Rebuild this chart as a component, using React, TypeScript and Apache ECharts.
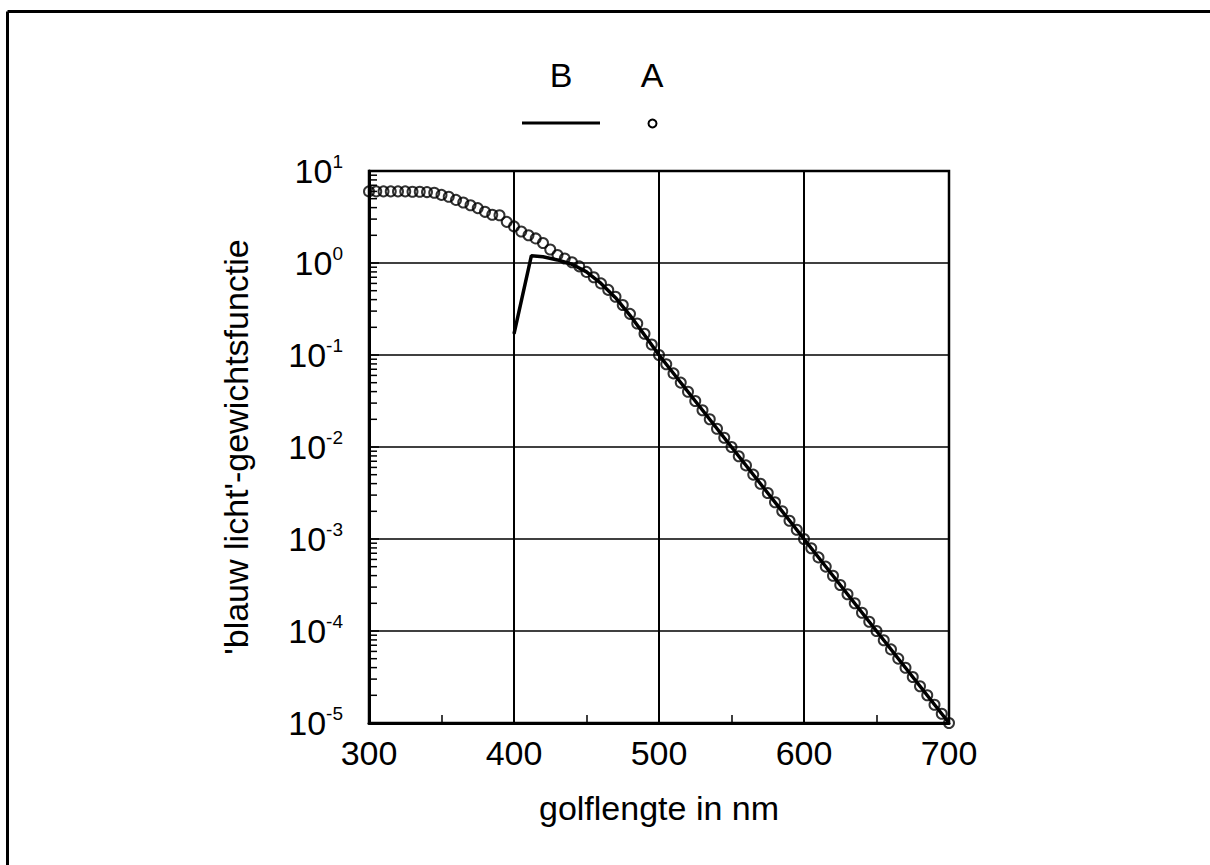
import React, { useEffect, useRef } from "react";
import * as echarts from "echarts";

// Wavelengths (nm) of the A data points
const WAVELENGTHS = [
  300, 305, 310, 315, 320, 325, 330, 335, 340, 345,
  350, 355, 360, 365, 370, 375, 380, 385, 390, 395,
  400, 405, 410, 415, 420, 425, 430, 435, 440, 445,
  450, 455, 460, 465, 470, 475, 480, 485, 490, 495,
  500, 505, 510, 515, 520, 525, 530, 535, 540, 545,
  550, 555, 560, 565, 570, 575, 580, 585, 590, 595,
  600, 605, 610, 615, 620, 625, 630, 635, 640, 645,
  650, 655, 660, 665, 670, 675, 680, 685, 690, 695,
  700,
];

// Series A ("blauw licht"-gewichtsfunctie, circles)
const SERIES_A = [
  6.0, 6.0, 6.0, 6.0, 6.0, 6.0, 5.95, 5.95, 5.9, 5.8,
  5.5, 5.25, 4.85, 4.55, 4.25, 3.95, 3.6, 3.35, 3.3, 2.8,
  2.5, 2.2, 2.0, 1.85, 1.65, 1.4, 1.22, 1.12, 1.02, 0.92,
  0.8, 0.7, 0.6, 0.51, 0.43, 0.35, 0.28, 0.22, 0.17, 0.13,
  0.1, 0.0794, 0.0631, 0.0501, 0.0398, 0.0316, 0.0251, 0.02, 0.0158, 0.0126,
  0.01, 0.00794, 0.00631, 0.00501, 0.00398, 0.00316, 0.00251, 0.002, 0.00158, 0.00126,
  0.001, 7.94e-4, 6.31e-4, 5.01e-4, 3.98e-4, 3.16e-4, 2.51e-4, 2.0e-4, 1.58e-4, 1.26e-4,
  1.0e-4, 7.94e-5, 6.31e-5, 5.01e-5, 3.98e-5, 3.16e-5, 2.51e-5, 2.0e-5, 1.58e-5, 1.26e-5,
  1.0e-5,
];

// Series B (solid line)
const B_X = [400, 412, 420, 430, 440, 450, 460, 470, 480, 490, 500, 550, 600, 650, 700];
const B_Y = [0.17, 1.2, 1.17, 1.08, 0.97, 0.8, 0.6, 0.42, 0.27, 0.165, 0.1, 0.01, 0.001, 1e-4, 1e-5];

// Axis ticks
const X_TICKS = [300, 400, 500, 600, 700];
const Y_EXPONENTS = [-5, -4, -3, -2, -1, 0, 1];
const MINOR_MULTS = [2, 3, 4, 5, 6, 7, 8, 9];

const LEGEND_NAMES = ["B", "A"];
const X_TITLE = "golflengte in nm";
const Y_TITLE = "'blauw licht'-gewichtsfunctie";

const FONT = "'Liberation Sans', Arial, Helvetica, sans-serif";
const FS = 34;

export default function App() {
  const ref = useRef<HTMLDivElement>(null);

  useEffect(() => {
    const chart = echarts.init(ref.current!, null, { renderer: "svg" });

    const minorTicks: number[][] = [];
    for (const e of Y_EXPONENTS.slice(0, -1)) {
      for (const m of MINOR_MULTS) minorTicks.push([X_TICKS[0], m * Math.pow(10, e)]);
    }

    const option: any = {
      animation: false,
      backgroundColor: "#fff",
      textStyle: { fontFamily: FONT, color: "#000" },
      grid: {
        left: 369,
        top: 171,
        width: 580,
        height: 552,
        show: true,
        borderColor: "#000",
        borderWidth: 2.5,
        containLabel: false,
      },
      xAxis: {
        type: "value",
        min: X_TICKS[0],
        max: X_TICKS[X_TICKS.length - 1],
        interval: 100,
        axisLine: { show: true, lineStyle: { color: "#000", width: 3 } },
        axisTick: { show: true, inside: true, length: 10, lineStyle: { color: "#000", width: 1.5 } },
        minorTick: { show: true, splitNumber: 2, length: 8, lineStyle: { color: "#000", width: 1.5 } },
        axisLabel: { fontSize: FS, color: "#000", margin: 13, fontFamily: FONT },
        splitLine: { show: true, lineStyle: { color: "#000", width: 2 } },
        name: X_TITLE,
        nameLocation: "middle",
        nameGap: 68,
        nameTextStyle: { fontSize: FS, color: "#000", fontFamily: FONT },
      },
      yAxis: {
        type: "log",
        logBase: 10,
        min: 1e-5,
        max: 10,
        splitNumber: 6,
        axisLine: { show: true, lineStyle: { color: "#000", width: 3 } },
        axisTick: { show: true, inside: true, length: 10, lineStyle: { color: "#000", width: 1.5 } },
        axisLabel: {
          margin: 26,
          formatter: (v: number) => `{b|10}{s|${Math.round(Math.log10(v))}}`,
          rich: {
            b: { fontSize: FS, lineHeight: 38, color: "#000", fontFamily: FONT },
            s: { fontSize: 19, lineHeight: 16, verticalAlign: "top", color: "#000", fontFamily: FONT },
          },
        },
        splitLine: { show: true, lineStyle: { color: "#000", width: 1.5 } },
        name: Y_TITLE,
        nameLocation: "middle",
        nameRotate: 90,
        nameGap: 116,
        nameTextStyle: { fontSize: FS, color: "#000", fontFamily: FONT },
      },
      graphic: [
        {
          type: "line",
          shape: { x1: 7.5, y1: 11.5, x2: 1210, y2: 11.5 },
          style: { stroke: "#000", lineWidth: 3 },
          silent: true,
        },
        {
          type: "line",
          shape: { x1: 7.5, y1: 11.5, x2: 7.5, y2: 865 },
          style: { stroke: "#000", lineWidth: 3 },
          silent: true,
        },
        {
          type: "text",
          x: 561,
          y: 75,
          style: { text: LEGEND_NAMES[0], fontSize: FS, fontFamily: FONT, fill: "#000", textAlign: "center", textVerticalAlign: "middle" },
        },
        {
          type: "line",
          shape: { x1: 522, y1: 123, x2: 600, y2: 123 },
          style: { stroke: "#000", lineWidth: 3 },
        },
        {
          type: "text",
          x: 652,
          y: 75,
          style: { text: LEGEND_NAMES[1], fontSize: FS, fontFamily: FONT, fill: "#000", textAlign: "center", textVerticalAlign: "middle" },
        },
        {
          type: "circle",
          shape: { cx: 652.5, cy: 123.5, r: 4 },
          style: { fill: "none", stroke: "#000", lineWidth: 2 },
        },
      ],
      series: [
        {
          name: "A",
          type: "scatter",
          data: WAVELENGTHS.map((w, i) => [w, SERIES_A[i]]),
          symbol: "circle",
          symbolSize: 10,
          itemStyle: { color: "rgba(0,0,0,0)", borderColor: "#000", borderWidth: 2 },
          z: 3,
          silent: true,
        },
        {
          name: "B",
          type: "line",
          data: B_X.map((x, i) => [x, B_Y[i]]),
          symbol: "none",
          lineStyle: { color: "#000", width: 3.5 },
          z: 4,
          silent: true,
        },
        {
          name: "minorTicks",
          type: "custom",
          data: minorTicks,
          silent: true,
          z: 5,
          renderItem: (params: any, api: any) => {
            const p = api.coord([api.value(0), api.value(1)]);
            return {
              type: "line",
              shape: { x1: p[0], y1: p[1], x2: p[0] + 8, y2: p[1] },
              style: { stroke: "#000", lineWidth: 1.5 },
            };
          },
        },
      ],
    };

    chart.setOption(option);
    return () => chart.dispose();
  }, []);

  return (
    <div
      ref={ref}
      style={{ position: "absolute", left: 0, top: 0, width: 1210, height: 865, background: "#fff" }}
    />
  );
}
